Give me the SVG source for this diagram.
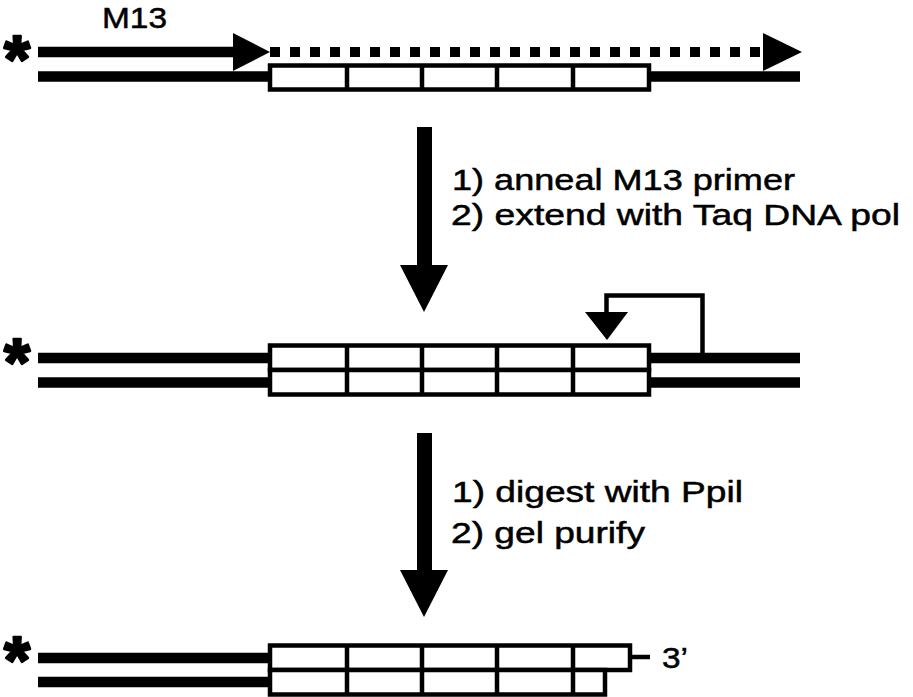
<svg xmlns="http://www.w3.org/2000/svg" width="913" height="697" viewBox="0 0 913 697">
  <style>
    .strand { stroke: #000; stroke-width: 10.5; fill: none; stroke-linecap: butt; }
    .dots { stroke: #000; stroke-width: 10; fill: none; stroke-dasharray: 10 10; }
    .box { stroke: #000; stroke-width: 4.5; fill: #fff; }
    .div { stroke: #000; stroke-width: 4.5; fill: none; }
    .thin { stroke: #000; stroke-width: 4.5; fill: none; stroke-linejoin: miter; }
    .head { fill: #000; stroke: none; }
    .lbl { font-family: "Liberation Sans", Arial, sans-serif; font-size: 30px; fill: #000; stroke: #000; stroke-width: 0.5; }
    .star { font-family: "Liberation Sans", Arial, sans-serif; font-weight: bold; font-size: 67px; fill: #000; stroke: #000; stroke-width: 2.5; stroke-linejoin: round; text-anchor: middle; }
  </style>
  <rect width="913" height="697" fill="#fff"/>

  <!-- Row 1: labelled template with M13 primer extension -->
  <g id="template">
    <text class="star" x="17" y="82">*</text>
    <text class="lbl" x="102" y="28" textLength="65" lengthAdjust="spacingAndGlyphs">M13</text>
    <line class="strand" x1="38" y1="52" x2="236" y2="52"/>
    <polygon class="head" points="233,33 270,52 233,71"/>
    <line class="dots" x1="270" y1="52" x2="762" y2="52"/>
    <polygon class="head" points="763,33 802,52 763,71"/>
    <line class="strand" x1="38" y1="76.5" x2="272" y2="76.5"/>
    <line class="strand" x1="648" y1="76.5" x2="800" y2="76.5"/>
    <rect class="box" x="270" y="65.5" width="379" height="24"/>
    <path class="div" d="M347,65.5V89.5M422,65.5V89.5M497,65.5V89.5M573,65.5V89.5"/>
  </g>

  <!-- Row 2: double-stranded product -->
  <g id="duplex">
    <text class="star" x="17" y="385">*</text>
    <line class="strand" x1="38" y1="358" x2="272" y2="358"/>
    <line class="strand" x1="38" y1="382.5" x2="272" y2="382.5"/>
    <line class="strand" x1="648" y1="358" x2="800" y2="358"/>
    <line class="strand" x1="648" y1="382.5" x2="800" y2="382.5"/>
    <rect class="box" x="270" y="345.5" width="379" height="24.5"/>
    <rect class="box" x="270" y="370" width="379" height="24.5"/>
    <path class="div" d="M347,345.5V394.5M422,345.5V394.5M497,345.5V394.5M573,345.5V394.5"/>
  </g>

  <!-- Row 3: digested, gel-purified fragment -->
  <g id="fragment">
    <text class="star" x="17" y="682.5">*</text>
    <line class="strand" x1="38" y1="658" x2="272" y2="658"/>
    <line class="strand" x1="38" y1="682" x2="272" y2="682"/>
    <rect class="box" x="270" y="645.5" width="360" height="24.5"/>
    <rect class="box" x="270" y="670" width="335" height="24.5"/>
    <path class="div" d="M347,645.5V694.5M422,645.5V694.5M497,645.5V694.5M573,645.5V694.5"/>
    <line class="thin" x1="630" y1="657" x2="650" y2="657"/>
    <text class="lbl" x="662" y="668" font-size="31" textLength="26" lengthAdjust="spacingAndGlyphs">3’</text>
  </g>

  <!-- Step labels -->
  <g id="step1">
    <text class="lbl" x="452" y="190" textLength="343" lengthAdjust="spacingAndGlyphs">1) anneal M13 primer</text>
    <text class="lbl" x="451" y="225" textLength="449" lengthAdjust="spacingAndGlyphs">2) extend with Taq DNA pol</text>
  </g>
  <g id="step2">
    <text class="lbl" x="452" y="502" textLength="291" lengthAdjust="spacingAndGlyphs">1) digest with Ppil</text>
    <text class="lbl" x="451" y="543" textLength="194" lengthAdjust="spacingAndGlyphs">2) gel purify</text>
  </g>

  <!-- Connectors -->
  <g id="connectors">
    <rect class="head" x="417" y="127" width="15" height="140"/>
    <polygon class="head" points="400,265 448,265 424,312"/>
    <rect class="head" x="417" y="433" width="15" height="139"/>
    <polygon class="head" points="400,570 448,570 424,617"/>
    <path class="thin" d="M702.5,355V295.5H606.5V314"/>
    <polygon class="head" points="585,312 628,312 607,340"/>
  </g>
</svg>
